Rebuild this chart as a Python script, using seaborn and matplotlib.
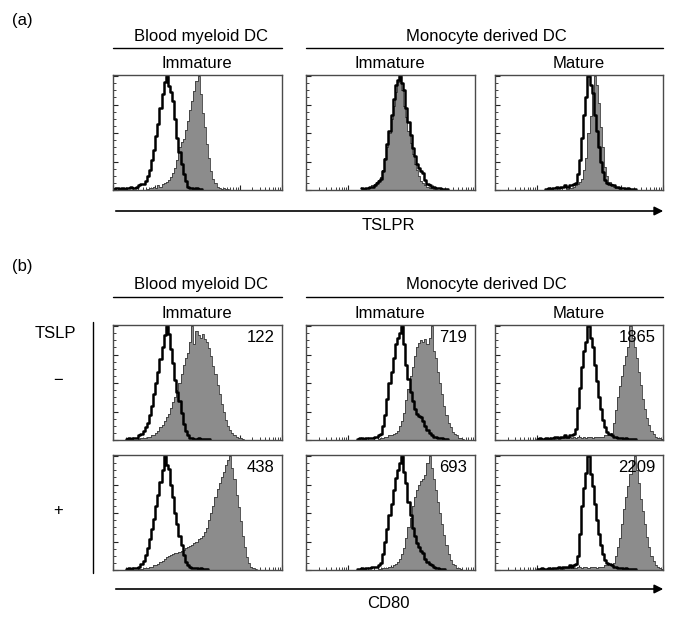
import numpy as np
import pandas as pd
import matplotlib
matplotlib.use("Agg")
import matplotlib.pyplot as plt
import seaborn as sns

sns.set_style("white")
plt.rcParams['font.family'] = ['Liberation Sans', 'DejaVu Sans']
plt.rcParams['text.color'] = 'black'

W, H = 692, 626
BIN = 0.05  # width of one channel bin, in log10 decades
FS = 12

# ---- (a) TSLPR staining, % of peak height, bins start at *_start (decade)
a_blood_imm_ctrl_start = 0.00
a_blood_imm_ctrl = [1, 2, 2, 1, 2, 1, 2, 2, 3, 2, 2, 3, 4, 5, 5, 8, 12, 18, 26, 35, 47, 58, 72, 84, 95,
                    100, 91, 86, 78, 62, 46, 33, 23, 14, 8, 3, 2, 2, 1, 2, 1, 1]
a_blood_imm_stain_start = 0.80
a_blood_imm_stain = [1, 2, 2, 3, 2, 4, 3, 5, 6, 7, 9, 11, 15, 19, 26, 38, 42, 45, 53, 61, 70, 78, 87, 96,
                     100, 84, 68, 55, 40, 28, 17, 10, 6, 3, 2, 1, 2, 1, 1]

a_mono_imm_ctrl_start = 1.30
a_mono_imm_ctrl = [2, 1, 2, 2, 3, 3, 4, 6, 8, 10, 17, 27, 40, 52, 66, 80, 92, 97, 100, 94, 88, 72, 60, 48,
                   37, 30, 23, 19, 17, 15, 9, 5, 4, 3, 3, 2, 2, 2, 1, 1, 1]
a_mono_imm_stain_start = 1.30
a_mono_imm_stain = [1, 1, 2, 2, 3, 4, 5, 7, 9, 11, 18, 28, 38, 50, 62, 74, 86, 95, 100, 88, 74, 64, 52, 41,
                    32, 23, 18, 12, 8, 6, 4, 3, 2, 2, 1, 1]

a_mono_mat_ctrl_start = 1.20
a_mono_mat_ctrl = [1, 2, 1, 2, 2, 3, 2, 3, 3, 4, 3, 4, 4, 5, 6, 14, 26, 46, 66, 82, 100, 92, 85, 66, 52,
                   38, 25, 16, 9, 6, 5, 4, 4, 3, 3, 2, 2, 2, 1, 2, 1, 1, 1]
a_mono_mat_stain_start = 1.70
a_mono_mat_stain = [1, 2, 2, 3, 4, 5, 7, 10, 18, 28, 50, 65, 85, 100, 92, 76, 55, 38, 20, 12, 7, 5, 3, 2, 2, 1]

# ---- (b) CD80 staining without (minus) and with (plus) TSLP
b_blood_minus_ctrl_start = 0.30
b_blood_minus_ctrl = [1, 2, 1, 2, 2, 2, 4, 5, 8, 11, 15, 22, 30, 40, 50, 60, 71, 82, 92, 100, 93, 80, 68,
                      53, 42, 34, 24, 14, 8, 4, 2, 2, 1, 1, 2, 1, 1, 1, 1, 1]
b_blood_minus_stain_start = 0.60
b_blood_minus_stain = [1, 2, 2, 2, 3, 3, 4, 4, 6, 8, 11, 13, 17, 20, 23, 28, 33, 38, 44, 50, 58, 66, 72,
                       76, 86, 100, 84, 96, 92, 90, 93, 89, 86, 81, 74, 65, 58, 48, 40, 32, 25, 18, 12,
                       9, 6, 4, 3, 2, 2, 1]
b_blood_plus_ctrl_start = 0.30
b_blood_plus_ctrl = [1, 2, 1, 2, 2, 2, 3, 5, 8, 13, 19, 27, 36, 45, 56, 66, 77, 88, 100, 92, 89, 75, 64,
                     50, 40, 30, 22, 13, 7, 4, 3, 2, 2, 2, 1, 2, 1, 1, 1]
b_blood_plus_stain_start = 0.60
b_blood_plus_stain = [1, 1, 2, 2, 2, 3, 3, 4, 4, 5, 7, 8, 10, 11, 12, 13, 14, 15, 15, 16, 17, 18, 19, 20,
                      21, 22, 24, 25, 27, 28, 30, 33, 37, 44, 50, 56, 64, 71, 76, 82, 86, 92, 97, 100,
                      90, 80, 66, 55, 43, 30, 20, 11, 6, 3, 2, 1]

b_mono_imm_minus_ctrl_start = 1.20
b_mono_imm_minus_ctrl = [1, 2, 2, 1, 2, 2, 2, 2, 3, 3, 4, 5, 12, 22, 36, 50, 60, 72, 84, 90, 94, 100, 84,
                         66, 54, 42, 34, 27, 23, 21, 20, 17, 12, 9, 6, 4, 3, 3, 2, 2, 2, 1, 1]
b_mono_imm_minus_stain_start = 1.70
b_mono_imm_minus_stain = [1, 2, 2, 3, 3, 4, 4, 5, 6, 8, 12, 17, 24, 35, 45, 56, 64, 74, 82, 85, 88, 86,
                          89, 84, 90, 100, 78, 72, 60, 50, 40, 30, 22, 15, 11, 7, 5, 4, 2, 2, 1]
b_mono_imm_plus_ctrl_start = 1.20
b_mono_imm_plus_ctrl = [1, 1, 2, 1, 2, 2, 2, 3, 3, 3, 4, 6, 14, 25, 36, 48, 58, 70, 81, 88, 94, 100, 86,
                        76, 60, 48, 37, 30, 24, 20, 17, 15, 10, 7, 5, 4, 3, 2, 2, 1, 1, 1]
b_mono_imm_plus_stain_start = 1.70
b_mono_imm_plus_stain = [1, 1, 2, 2, 2, 3, 3, 4, 5, 7, 10, 14, 19, 28, 38, 46, 56, 64, 70, 75, 78, 80, 83,
                         94, 100, 90, 80, 70, 60, 50, 40, 31, 22, 14, 9, 5, 4, 2, 2, 1]

b_mono_mat_minus_ctrl_start = 1.00
b_mono_mat_minus_ctrl = [1, 2, 1, 1, 2, 1, 2, 2, 3, 3, 2, 3, 3, 4, 3, 4, 4, 5, 10, 28, 46, 64, 78, 86,
                         100, 90, 82, 66, 52, 38, 27, 18, 11, 7, 5, 4, 3, 3, 2, 2, 2, 1, 2, 1, 1, 1, 1]
b_mono_mat_minus_stain_start = 1.20
b_mono_mat_minus_stain = [1, 1, 1, 2, 1, 2, 2, 2, 2, 2, 2, 3, 2, 3, 2, 3, 3, 2, 3, 2, 3, 3, 2, 3, 3, 3,
                          3, 3, 4, 4, 4, 6, 15, 26, 38, 47, 56, 66, 74, 82, 100, 90, 82, 72, 60, 48, 36,
                          27, 19, 13, 8, 5, 3, 2, 2, 1]
b_mono_mat_plus_ctrl_start = 1.00
b_mono_mat_plus_ctrl = [1, 1, 2, 1, 1, 2, 1, 2, 2, 2, 3, 2, 3, 3, 3, 4, 3, 4, 5, 12, 32, 56, 72, 85, 100,
                        84, 74, 58, 44, 32, 22, 14, 9, 6, 5, 4, 3, 3, 2, 2, 2, 1, 2, 1, 1, 1, 1]
b_mono_mat_plus_stain_start = 1.20
b_mono_mat_plus_stain = [1, 1, 2, 1, 1, 2, 2, 2, 1, 2, 2, 2, 3, 2, 2, 3, 3, 2, 3, 3, 2, 3, 3, 3, 2, 3,
                         3, 3, 4, 4, 5, 4, 6, 12, 20, 28, 40, 54, 64, 74, 84, 96, 100, 88, 76, 62, 52, 40,
                         29, 20, 12, 8, 4, 3, 2, 1]

b_labels_minus = ["122", "719", "1865"]
b_labels_plus = ["438", "693", "2209"]

# ---- layout (figure pixels)
cols = [(113, 282), (306, 475), (495, 663)]
row_a = (75, 190)
row_b1 = (325, 440)
row_b2 = (455, 570)

fig = plt.figure(figsize=(W / 100, H / 100), dpi=100)

# overlay in pixel coordinates for labels, header lines and arrows
ov = fig.add_axes([0, 0, 1, 1])
ov.set_xlim(0, W)
ov.set_ylim(H, 0)
ov.axis("off")


def box(col, row):
    x0, x1 = cols[col]
    y0, y1 = row
    return fig.add_axes([x0 / W, 1 - y1 / H, (x1 - x0) / W, (y1 - y0) / H])


def hist(ax, start, heights, filled):
    n = len(heights)
    df = pd.DataFrame({"channel": start + BIN * (np.arange(n) + 0.5), "count": heights})
    opts = dict(data=df, x="channel", weights="count", bins=n, binrange=(start, start + n * BIN),
                element="step", ax=ax)
    if filled:
        sns.histplot(fill=True, color="#8c8c8c", alpha=1, edgecolor="none", linewidth=0, **opts)
        sns.histplot(fill=False, color="#3a3a3a", linewidth=0.6, **opts)
    else:
        sns.histplot(fill=False, color="black", linewidth=1.8, **opts)


def style(ax):
    ax.set_xlim(0, 4)
    ax.set_ylim(0, 101)
    ax.set_xlabel("")
    ax.set_ylabel("")
    minor_x = [d + np.log10(m) for d in range(4) for m in range(2, 10)]
    ax.set_xticks(range(5))
    ax.set_xticks(minor_x, minor=True)
    ax.set_yticks(np.arange(0, 101, 25))
    ax.set_yticks(np.arange(0, 101, 6.25), minor=True)
    ax.tick_params(which="both", direction="in", bottom=True, left=True, top=False, right=False,
                   labelbottom=False, labelleft=False, color="#222")
    ax.tick_params(which="major", length=3.5, width=0.8)
    ax.tick_params(which="minor", length=2, width=0.6)
    for s in ax.spines.values():
        s.set_color("#4a4a4a")
        s.set_linewidth(1.0)


def panel(col, row, ctrl_start, ctrl, stain_start, stain, label=None):
    ax = box(col, row)
    hist(ax, stain_start, stain, True)
    hist(ax, ctrl_start, ctrl, False)
    style(ax)
    if label is not None:
        ax.text(0.955, 0.96, label, transform=ax.transAxes, ha="right", va="top", fontsize=FS)
    return ax


# (a)
panel(0, row_a, a_blood_imm_ctrl_start, a_blood_imm_ctrl, a_blood_imm_stain_start, a_blood_imm_stain)
panel(1, row_a, a_mono_imm_ctrl_start, a_mono_imm_ctrl, a_mono_imm_stain_start, a_mono_imm_stain)
panel(2, row_a, a_mono_mat_ctrl_start, a_mono_mat_ctrl, a_mono_mat_stain_start, a_mono_mat_stain)

# (b)
panel(0, row_b1, b_blood_minus_ctrl_start, b_blood_minus_ctrl,
      b_blood_minus_stain_start, b_blood_minus_stain, b_labels_minus[0])
panel(1, row_b1, b_mono_imm_minus_ctrl_start, b_mono_imm_minus_ctrl,
      b_mono_imm_minus_stain_start, b_mono_imm_minus_stain, b_labels_minus[1])
panel(2, row_b1, b_mono_mat_minus_ctrl_start, b_mono_mat_minus_ctrl,
      b_mono_mat_minus_stain_start, b_mono_mat_minus_stain, b_labels_minus[2])
panel(0, row_b2, b_blood_plus_ctrl_start, b_blood_plus_ctrl,
      b_blood_plus_stain_start, b_blood_plus_stain, b_labels_plus[0])
panel(1, row_b2, b_mono_imm_plus_ctrl_start, b_mono_imm_plus_ctrl,
      b_mono_imm_plus_stain_start, b_mono_imm_plus_stain, b_labels_plus[1])
panel(2, row_b2, b_mono_mat_plus_ctrl_start, b_mono_mat_plus_ctrl,
      b_mono_mat_plus_stain_start, b_mono_mat_plus_stain, b_labels_plus[2])


def headers(y_head, y_line, y_sub):
    ov.text(201, y_head, "Blood myeloid DC", ha="center", va="center", fontsize=FS)
    ov.text(486, y_head, "Monocyte derived DC", ha="center", va="center", fontsize=FS)
    ov.plot([cols[0][0], cols[0][1]], [y_line, y_line], color="black", lw=1)
    ov.plot([cols[1][0], cols[2][1]], [y_line, y_line], color="black", lw=1)
    ov.text(197, y_sub, "Immature", ha="center", va="center", fontsize=FS)
    ov.text(390, y_sub, "Immature", ha="center", va="center", fontsize=FS)
    ov.text(579, y_sub, "Mature", ha="center", va="center", fontsize=FS)


def axis_arrow(y, label):
    ov.annotate("", xy=(666, y), xytext=(cols[0][0], y),
                arrowprops=dict(arrowstyle="-|>", color="black", lw=1.2, mutation_scale=13))
    ov.text(388, y + 14, label, ha="center", va="center", fontsize=FS)


ov.text(12, 21, "(a)", ha="left", va="center", fontsize=FS)
headers(37, 48, 63)
axis_arrow(211, "TSLPR")

ov.text(12, 266, "(b)", ha="left", va="center", fontsize=FS)
headers(285, 297, 313)
ov.text(35, 333, "TSLP", ha="left", va="center", fontsize=FS)
ov.plot([93, 93], [322, 573], color="black", lw=1)
ov.text(58, 380, "\u2212", ha="center", va="center", fontsize=FS)
ov.text(58, 510, "+", ha="center", va="center", fontsize=FS)
axis_arrow(589, "CD80")

fig.savefig("out.png", dpi=100)
